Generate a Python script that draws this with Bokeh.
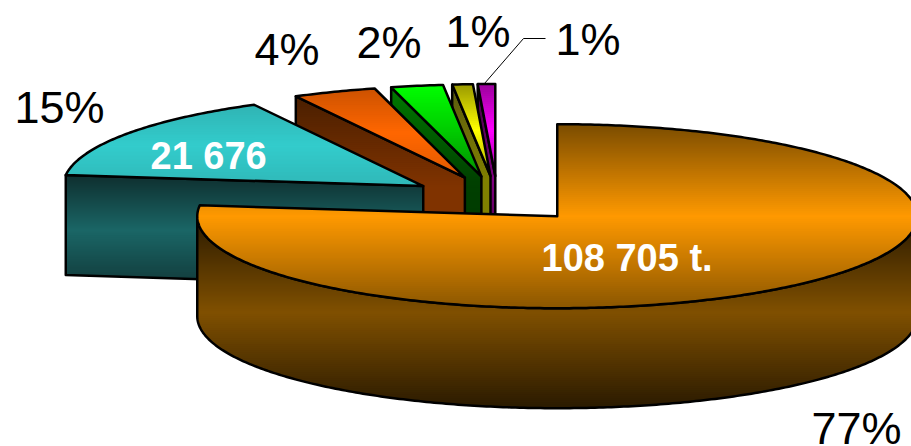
import math
from bokeh.plotting import figure
from bokeh.models import Range1d
from bokeh.core.properties import value
from bokeh.embed import file_html
from bokeh.resources import INLINE

# data
tonnes = [108705, 21676, 5300, 3300, 1300, 1100]
percent_labels = ["77%", "15%", "4%", "2%", "1%", "1%"]
value_labels = ["108 705 t.", "21 676"]

# appearance
top_stops = [("#7a4c00", "#ff9900", "#8a5600"),
             ("#2fb4b4", "#33cccc", "#2fb8b8"),
             ("#cc5200", "#ff6600", "#e05a00"),
             ("#00ff00", "#00cc00", "#008f00"),
             ("#999900", "#ffff00", "#b0b000"),
             ("#990099", "#ff00ff", "#a000a0")]
side_stops = [("#2a1a00", "#805000", "#2a1a00"),
              ("#0f2f2f", "#1a6666", "#123a3a"),
              ("#4a1f00", "#803300", "#803300"),
              ("#007a00", "#004000", "#003300"),
              ("#5a5a10", "#808000", "#808000"),
              ("#400040", "#800080", "#300030")]
CX, CY, RX, RY, DEPTH, EXPLODE = 497.0, 198.5, 360.0, 92.0, 100.0, 0.25
label_xy = [(811, 428), (14, 107), (254, 49), (356, 42), (445, 31), (555, 39)]
value_xy = [(541, 257), (150, 155)]
leader_x = [484, 523, 545]
leader_y = [83, 38, 38]

p = figure(width=911, height=446, output_backend="svg", toolbar_location=None,
           x_range=Range1d(0, 911), y_range=Range1d(446, 0), min_border=0)
p.axis.visible = False
p.grid.visible = False
p.outline_line_color = None
p.background_fill_color = "white"
p.border_fill_color = "white"


def hex2rgb(h):
    return tuple(int(h[i:i + 2], 16) for i in (1, 3, 5))


def mix(stops, t):
    a, b, f = (stops[0], stops[1], t * 2) if t < 0.5 else (stops[1], stops[2], t * 2 - 1)
    ca, cb = hex2rgb(a), hex2rgb(b)
    return "#%02x%02x%02x" % tuple(round(ca[i] + (cb[i] - ca[i]) * f) for i in range(3))


def clip(pts, y, keep_above):
    """Clip polygon to y <= limit (keep_above) or y >= limit."""
    inside = (lambda q: q[1] <= y) if keep_above else (lambda q: q[1] >= y)
    out = []
    for i, cur in enumerate(pts):
        prev = pts[i - 1]
        if inside(cur) != inside(prev):
            f = (y - prev[1]) / (cur[1] - prev[1])
            out.append((prev[0] + (cur[0] - prev[0]) * f, y))
        if inside(cur):
            out.append(cur)
    return out


def draw(pts, stops):
    ys = [q[1] for q in pts]
    y0, y1 = min(ys), max(ys)
    bands = max(8, int((y1 - y0) / 2))
    xs_l, ys_l, cols = [], [], []
    for b in range(bands):
        a0 = y0 + (y1 - y0) * b / bands
        poly = clip(clip(pts, a0, False), a0 + (y1 - y0) / bands + 3, True)
        if len(poly) >= 3:
            xs_l.append([q[0] for q in poly])
            ys_l.append([q[1] for q in poly])
            cols.append(mix(stops, (b + 0.5) / bands))
    p.patches(xs_l, ys_l, fill_color=cols, line_color=None)
    p.patches([[q[0] for q in pts]], [[q[1] for q in pts]], fill_color=None,
              line_color="black", line_width=2.5, line_join="round")


total = sum(tonnes)
slices = []
acc = 0.0
for v in tonnes:
    a0 = acc / total * 360
    acc += v
    a1 = acc / total * 360
    mid = math.radians((a0 + a1) / 2)
    cx = CX + EXPLODE * RX * math.sin(mid)
    cy = CY - EXPLODE * RY * math.cos(mid)
    slices.append((a0, a1, cx, cy))


def on_rim(cx, cy, deg):
    r = math.radians(deg)
    return (cx + RX * math.sin(r), cy - RY * math.cos(r))


def arc(cx, cy, a0, a1):
    n = max(3, int(abs(a1 - a0) * 1.5))
    return [on_rim(cx, cy, a0 + (a1 - a0) * i / n) for i in range(n + 1)]


# back to front: small slices first, biggest last
for i in [5, 4, 3, 2, 1, 0]:
    a0, a1, cx, cy = slices[i]
    if i == 0:
        front = arc(cx, cy, 90, 270)
        side = front + [(x, y + DEPTH) for x, y in reversed(front)]
    else:
        rim = on_rim(cx, cy, a0)
        side = [(cx, cy), rim, (rim[0], rim[1] + DEPTH), (cx, cy + DEPTH)]
    draw(side, side_stops[i])
    draw([(cx, cy)] + arc(cx, cy, a0, a1), top_stops[i])

p.line(leader_x, leader_y, line_color="black", line_width=1)

p.text([q[0] for q in label_xy], [q[1] for q in label_xy], text=percent_labels,
       text_font=value("Liberation Sans"), text_font_size="45px", text_color="black",
       text_baseline="alphabetic", text_align="left")
p.text([q[0] for q in value_xy], [q[1] for q in value_xy], text=value_labels,
       text_font=value("Liberation Sans"), text_font_size="38px", text_font_style="bold",
       text_color="white", text_baseline="alphabetic", text_align="left")

open("out.html", "w").write(file_html(p, INLINE))
